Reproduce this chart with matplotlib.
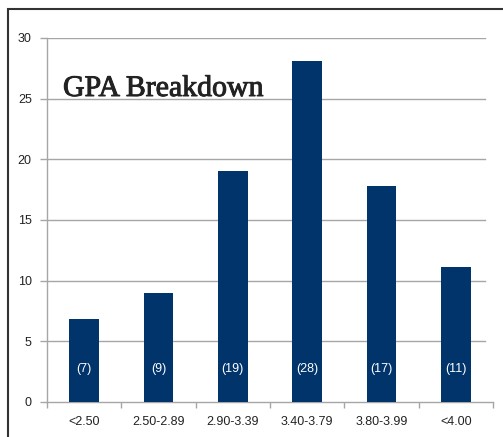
import matplotlib
matplotlib.use('Agg')
import matplotlib.pyplot as plt
import matplotlib.patheffects as pe
from matplotlib.patches import Rectangle

# Data
categories = ['<2.50', '2.50-2.89', '2.90-3.39', '3.40-3.79', '3.80-3.99', '<4.00']
counts = [6.8, 9.0, 19.0, 28.1, 17.8, 11.1]
count_labels = ['(7)', '(9)', '(19)', '(28)', '(17)', '(11)']
yticks = [0, 5, 10, 15, 20, 25, 30]

W, H = 503, 437
bar_color = '#01346b'
grid_color = '#a6a6a6'

fig = plt.figure(figsize=(W / 100, H / 100), dpi=100)
ax = fig.add_axes([47 / W, 1 - 402 / H, (493 - 47) / W, (402 - 38) / H])

# Outer frame, running off the right and bottom edges
fig.patches.append(Rectangle((8 / W, -1.0), 2.0, 2 - 9 / H,
                             transform=fig.transFigure, fill=False,
                             edgecolor='#333333', linewidth=1.5))

x = list(range(len(categories)))
ax.bar(x, counts, width=0.4, color=bar_color, zorder=3)
for xi, lab in zip(x, count_labels):
    ax.text(xi, 2.7, lab, color='white', ha='center', va='center',
            fontsize=9, family='Liberation Sans', zorder=4)

# Horizontal gridlines stop a little short of the axis end
for y in yticks[1:]:
    ax.axhline(y, xmin=0, xmax=(485 - 47) / (493 - 47), color=grid_color,
               linewidth=1.0, zorder=1)

ax.set_xlim(-0.5, len(categories) - 0.5)
ax.set_ylim(0, 30)
ax.set_yticks(yticks)
ax.set_yticklabels([str(v) for v in yticks])
ax.tick_params(axis='y', length=5, width=1.0, color=grid_color, pad=6,
               labelsize=9, labelcolor='#222222')

ax.set_xticks(x)
ax.set_xticklabels(categories)
ax.set_xticks([i - 0.5 for i in range(len(categories) + 1)], minor=True)
ax.tick_params(axis='x', which='major', length=0, pad=10, labelsize=9,
               labelcolor='#222222')
ax.tick_params(axis='x', which='minor', length=4, width=1.0, color=grid_color)

for lab in ax.get_xticklabels() + ax.get_yticklabels():
    lab.set_family('Liberation Sans')

for side in ['top', 'right']:
    ax.spines[side].set_visible(False)
for side in ['left', 'bottom']:
    ax.spines[side].set_color(grid_color)
    ax.spines[side].set_linewidth(1.0)

fig.text(63 / W, 1 - 96 / H, 'GPA Breakdown', family='Liberation Serif',
         fontsize=21.5, color='#222222', ha='left', va='baseline',
         path_effects=[pe.withStroke(linewidth=0.7, foreground='#222222')])

fig.savefig('out.png', dpi=100)
